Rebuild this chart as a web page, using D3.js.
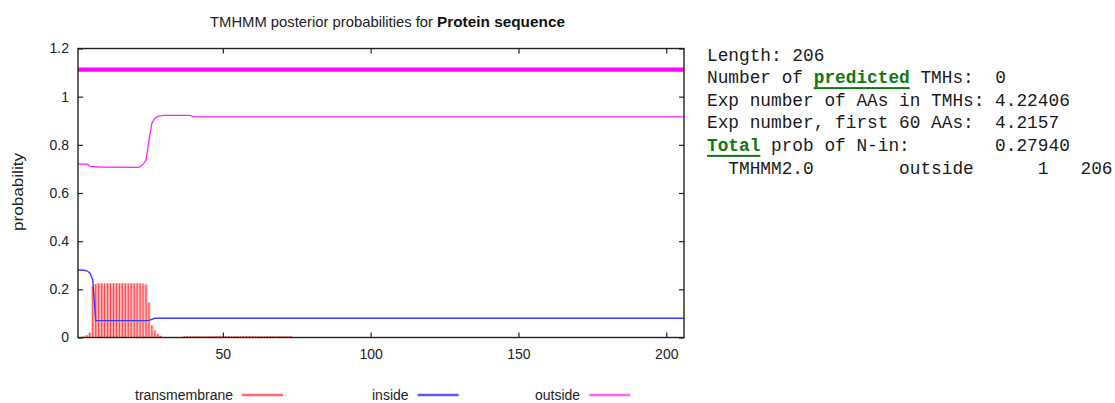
<!DOCTYPE html>
<html>
<head>
<meta charset="utf-8">
<script src="https://cdn.jsdelivr.net/npm/d3@7"></script>
<style>
  body { margin: 0; background: #fff; }
  svg { display: block; }
</style>
</head>
<body>
<div id="chart"></div>
<script>
// residue numbers and values
const seqLength = 206;

// transmembrane posterior, residue 1..73 (rest is zero)
const tmProb = [
  0, 0, 0.004, 0.01, 0.02, 0.212, 0.222, 0.225, 0.225, 0.225,
  0.225, 0.225, 0.225, 0.225, 0.225, 0.225, 0.225, 0.225, 0.225, 0.225,
  0.225, 0.225, 0.224, 0.22, 0.145, 0.05, 0.03, 0.015, 0.007, 0.002,
  0, 0, 0, 0, 0, 0, 0.006, 0.006, 0.006, 0.006,
  0.006, 0.006, 0.006, 0.006, 0.006, 0.006, 0.006, 0.006, 0.006, 0.006,
  0.006, 0.006, 0.006, 0.006, 0.006, 0.006, 0.006, 0.006, 0.006, 0.006,
  0.006, 0.006, 0.006, 0.006, 0.006, 0.006, 0.006, 0.006, 0.006, 0.006,
  0.006, 0.006, 0.006
];

// inside / outside curves as [residue, probability]
const insideProb = [
  [1, 0.28], [3, 0.279], [4, 0.277], [5, 0.268], [6, 0.24], [7, 0.07],
  [24, 0.07], [25, 0.071], [26, 0.075], [27, 0.08], [206, 0.08]
];
const outsideProb = [
  [1, 0.72], [4, 0.72], [5, 0.712], [8, 0.708], [21, 0.706], [22, 0.708],
  [23, 0.72], [24, 0.735], [25, 0.82], [26, 0.89], [27, 0.91], [28, 0.918],
  [30, 0.922], [39, 0.922], [40, 0.916], [206, 0.916]
];

// predicted topology line (outside for the whole sequence)
const topology = [[1, 1.112], [206, 1.112]];

const xTicks = [50, 100, 150, 200];
const yTicks = [0, 0.2, 0.4, 0.6, 0.8, 1, 1.2];
const yTickLabels = ["0", "0.2", "0.4", "0.6", "0.8", "1", "1.2"];

const legendItems = ["transmembrane", "inside", "outside"];

// summary text, [text, highlighted]
const infoLines = [
  [["Length: 206"]],
  [["Number of "], ["predicted", true], [" TMHs:  0"]],
  [["Exp number of AAs in TMHs: 4.22406"]],
  [["Exp number, first 60 AAs:  4.2157"]],
  [["Total", true], [" prob of N-in:        0.27940"]],
  [["  TMHMM2.0        outside      1   206"]]
];

//Setting up the svg
const W = 1115, H = 403;
const svg = d3.select("#chart").append("svg")
    .attr("width", W)
    .attr("height", H)
    .style("font-family", "'Liberation Sans', Arial, sans-serif");

const plot = {left: 78, right: 684, top: 48.5, bottom: 337.5};

const x = d3.scaleLinear().domain([1, seqLength]).range([plot.left, plot.right]);
const y = d3.scaleLinear().domain([0, 1.2]).range([plot.bottom, plot.top]);

const colors = {
  transmembrane: "#ff5a5a",
  inside: "#3a3aff",
  outside: "#ff22ff"
};

//Title
svg.append("text")
    .attr("x", 210).attr("y", 27)
    .attr("font-size", "15px")
    .attr("fill", "#222")
    .attr("textLength", 223).attr("lengthAdjust", "spacingAndGlyphs")
    .text("TMHMM posterior probabilities for");
svg.append("text")
    .attr("x", 437).attr("y", 27)
    .attr("font-size", "15px")
    .attr("font-weight", "bold")
    .attr("fill", "#111")
    .attr("textLength", 128).attr("lengthAdjust", "spacingAndGlyphs")
    .text("Protein sequence");

//Transmembrane impulses
const cellW = x(2) - x(1);
const tmData = tmProb.map((p, i) => ({res: i + 1, p: p})).filter(d => d.p > 0);
svg.append("g")
    .selectAll("rect")
    .data(tmData)
    .join("rect")
    .attr("x", d => x(d.res) - cellW / 2)
    .attr("y", d => y(d.p))
    .attr("width", cellW)
    .attr("height", d => y(0) - y(d.p))
    .attr("fill", "#ffb0b0");
svg.append("g")
    .selectAll("line")
    .data(tmData)
    .join("line")
    .attr("x1", d => x(d.res)).attr("x2", d => x(d.res))
    .attr("y1", d => y(d.p)).attr("y2", y(0))
    .attr("stroke", "#ff4040")
    .attr("stroke-width", 1);

//Inside / outside lines
const line = d3.line().x(d => x(d[0])).y(d => y(d[1]));
svg.append("path")
    .datum(insideProb)
    .attr("fill", "none")
    .attr("stroke", colors.inside)
    .attr("stroke-width", 1.4)
    .attr("d", line);
svg.append("path")
    .datum(outsideProb)
    .attr("fill", "none")
    .attr("stroke", colors.outside)
    .attr("stroke-width", 1.3)
    .attr("d", line);
svg.append("path")
    .datum(topology)
    .attr("fill", "none")
    .attr("stroke", "#ff00ff")
    .attr("stroke-width", 4.2)
    .attr("d", line);

//Axes, ticks pointing inward on all sides
function styleAxis(g) {
  g.select(".domain").remove();
  g.selectAll(".tick line").attr("stroke", "#222").attr("stroke-width", 1.2);
  g.selectAll(".tick text").attr("fill", "#222").attr("font-size", "14px")
      .attr("font-family", "'Liberation Sans', Arial, sans-serif");
}
svg.append("g")
    .attr("transform", `translate(${plot.left},0)`)
    .call(d3.axisLeft(y).tickValues(yTicks).tickFormat((d, i) => yTickLabels[i])
        .tickSizeInner(-5).tickSizeOuter(0).tickPadding(9))
    .call(styleAxis);
svg.append("g")
    .attr("transform", `translate(${plot.right},0)`)
    .call(d3.axisRight(y).tickValues(yTicks).tickFormat("")
        .tickSizeInner(-5).tickSizeOuter(0))
    .call(styleAxis);
svg.append("g")
    .attr("transform", `translate(0,${plot.bottom})`)
    .call(d3.axisBottom(x).tickValues(xTicks)
        .tickSizeInner(-5).tickSizeOuter(0).tickPadding(12))
    .call(styleAxis);
svg.append("g")
    .attr("transform", `translate(0,${plot.top})`)
    .call(d3.axisTop(x).tickValues(xTicks).tickFormat("")
        .tickSizeInner(-5).tickSizeOuter(0))
    .call(styleAxis);

//Frame
svg.append("rect")
    .attr("x", plot.left).attr("y", plot.top)
    .attr("width", plot.right - plot.left)
    .attr("height", plot.bottom - plot.top)
    .attr("fill", "none")
    .attr("stroke", "#222")
    .attr("stroke-width", 1.4);

//Y label
svg.append("text")
    .attr("transform", "translate(23,192) rotate(-90)")
    .attr("text-anchor", "middle")
    .attr("font-size", "15px")
    .attr("fill", "#222")
    .attr("textLength", 78).attr("lengthAdjust", "spacingAndGlyphs")
    .text("probability");

//Legend
const legendX = [135, 372, 535];
const legendColors = ["#ff6a6a", "#5a5aff", "#ff66ff"];
legendItems.forEach((name, i) => {
  const t = svg.append("text")
      .attr("x", legendX[i]).attr("y", 400)
      .attr("font-size", "14px")
      .attr("fill", "#222")
      .text(name);
  const w = t.node().getComputedTextLength();
  svg.append("line")
      .attr("x1", legendX[i] + w + 9).attr("x2", legendX[i] + w + 50)
      .attr("y1", 395).attr("y2", 395)
      .attr("stroke", legendColors[i])
      .attr("stroke-width", 2.5);
});

//Summary text on the right
const info = svg.append("g")
    .style("font-family", "'Liberation Mono', 'Courier New', monospace")
    .style("font-size", "17.8px");
infoLines.forEach((parts, i) => {
  const by = 60.5 + i * 22.6;
  const t = info.append("text")
      .attr("x", 707).attr("y", by)
      .attr("fill", "#1a1a1a")
      .style("white-space", "pre");
  parts.forEach(p => {
    t.append("tspan")
        .attr("fill", p[1] ? "#117711" : "#1a1a1a")
        .attr("font-weight", p[1] ? "bold" : "normal")
        .text(p[0]);
  });
  // underline the highlighted words
  let offset = 0;
  const full = parts.map(p => p[0]).join("");
  const cw = t.node().getComputedTextLength() / full.length;
  parts.forEach(p => {
    if (p[1]) {
      info.append("rect")
          .attr("x", 707 + offset * cw)
          .attr("y", by + 4)
          .attr("width", p[0].length * cw)
          .attr("height", 2)
          .attr("fill", "#117711");
    }
    offset += p[0].length;
  });
});
</script>
</body>
</html>
